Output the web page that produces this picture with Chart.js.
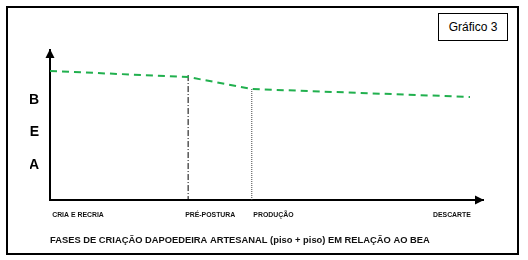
<!DOCTYPE html>
<html><head><meta charset="utf-8">
<script src="https://cdn.jsdelivr.net/npm/chart.js@4"></script>
<style>
html,body{margin:0;padding:0;background:#fff;}
#wrap{position:relative;width:528px;height:260px;overflow:hidden;}
#frame{position:absolute;left:6px;top:6px;width:509px;height:245px;border:2px solid #000;}
#badge{position:absolute;left:438px;top:13px;width:68px;height:26px;border:1.5px solid #000;font:12px 'Liberation Sans',Arial,sans-serif;color:#000;display:flex;align-items:center;justify-content:center;}
canvas{position:absolute;left:0;top:0;}
</style></head>
<body><div id="wrap"><div id="frame"></div><div id="badge">Gráfico 3</div><canvas id="c" width="528" height="260"></canvas></div>
<script>
// ---- data ----
const phases = ['CRIA E RECRIA', 'PRÉ-POSTURA', 'PRODUÇÃO', 'DESCARTE'];
const phaseTickX = [0.5, 37.0, 51.6, 97.2];
const beaX = [0, 31.9, 46.6, 97];
const beaValues = [86, 82, 74, 68.7];
const prePosturaX = 31.9;
const prePosturaMarker = [83.3, 0];
const producaoX = 46.6;
const producaoMarker = [74, 0];
const yLetters = ['A', 'E', 'B'];
const yLetterValues = [23.3, 45.3, 66.7];
const xTitle = 'FASES DE CRIAÇÃO DAPOEDEIRA ARTESANAL (piso + piso) EM RELAÇÃO AO BEA';

const arial = "'Liberation Sans', Arial, sans-serif";

const arrows = {
  id: 'arrows',
  afterDraw(chart) {
    const { ctx, chartArea: a } = chart;
    ctx.save();
    ctx.fillStyle = '#000';
    ctx.beginPath();
    ctx.moveTo(a.left, a.top - 1);
    ctx.lineTo(a.left - 4.5, a.top + 8);
    ctx.lineTo(a.left + 4.5, a.top + 8);
    ctx.closePath();
    ctx.fill();
    ctx.beginPath();
    ctx.moveTo(a.right + 1, a.bottom);
    ctx.lineTo(a.right - 8, a.bottom - 4.5);
    ctx.lineTo(a.right - 8, a.bottom + 4.5);
    ctx.closePath();
    ctx.fill();
    ctx.restore();
  }
};

new Chart(document.getElementById('c'), {
  type: 'line',
  data: {
    datasets: [
      {
        label: 'BEA',
        data: beaX.map((x, i) => ({ x, y: beaValues[i] })),
        borderColor: '#21b04e',
        borderWidth: 2,
        borderDash: [7, 5],
        pointRadius: 0,
        tension: 0,
        fill: false
      },
      {
        label: 'Pré-postura',
        data: prePosturaMarker.map(y => ({ x: prePosturaX, y })),
        borderColor: '#000',
        borderWidth: 1,
        borderDash: [6, 2, 1, 2],
        pointRadius: 0
      },
      {
        label: 'Produção',
        data: producaoMarker.map(y => ({ x: producaoX, y })),
        borderColor: '#444',
        borderWidth: 1,
        borderDash: [1, 1],
        pointRadius: 0
      }
    ]
  },
  options: {
    responsive: false,
    animation: false,
    layout: { padding: { left: 30, top: 50, right: 45, bottom: 0 } },
    plugins: { legend: { display: false }, tooltip: { enabled: false } },
    scales: {
      x: {
        type: 'linear',
        min: 0, max: 100,
        grid: { display: false, drawTicks: false },
        border: { display: true, color: '#000', width: 2 },
        afterBuildTicks(scale) { scale.ticks = phaseTickX.map(v => ({ value: v })); },
        afterFit(scale) { scale.height = 60; },
        ticks: {
          autoSkip: false, maxRotation: 0, align: 'inner', padding: 11,
          color: '#111',
          font: { family: arial, size: 6.9, weight: 'bold' },
          callback: (v, i) => phases[i]
        },
        title: {
          display: true, text: xTitle, align: 'start', color: '#111',
          font: { family: arial, size: 9.35, weight: 'bold' },
          padding: { top: 0, bottom: 14 }
        }
      },
      y: {
        type: 'linear',
        min: 0, max: 100,
        grid: { display: false, drawTicks: false },
        border: { display: true, color: '#000', width: 2 },
        afterBuildTicks(scale) { scale.ticks = yLetterValues.map(v => ({ value: v })); },
        afterFit(scale) { scale.width = 20; },
        ticks: {
          padding: 11, color: '#000',
          font: { family: arial, size: 14, weight: 'bold' },
          callback: (v, i) => yLetters[i]
        }
      }
    }
  },
  plugins: [arrows]
});
</script>
</body></html>
